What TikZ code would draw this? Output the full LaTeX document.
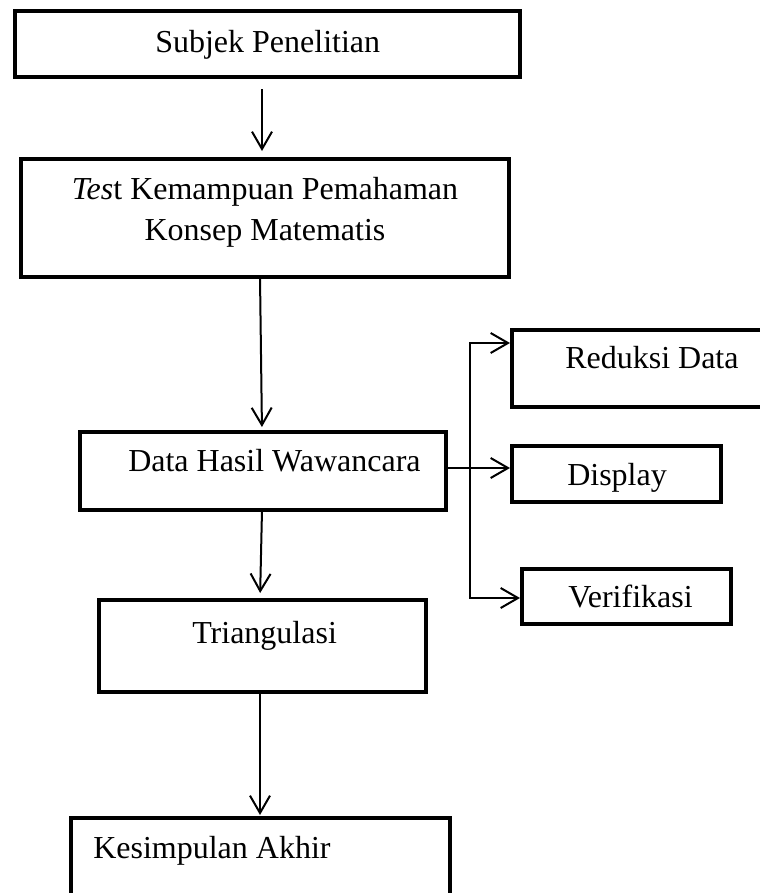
\documentclass[tikz,border=0pt]{standalone}
\usepackage{fontspec}
\setmainfont{Liberation Serif}
\usetikzlibrary{arrows.meta}
\begin{document}
\begin{tikzpicture}[x=0.75pt,y=-0.75pt,
  box/.style={draw, line width=3pt, inner sep=0pt, outer sep=0pt, anchor=north west},
  lbl/.style={anchor=base west, inner sep=0pt, font=\fontsize{24}{29}\selectfont},
  clbl/.style={anchor=base, inner sep=0pt, font=\fontsize{24}{29}\selectfont},
  arr/.style={line width=1.5pt, -{Straight Barb[length=13pt,width=15pt,line width=1.5pt]}}
]
\useasboundingbox (0,0) rectangle (760,893);
\clip (0,0) rectangle (760,893);

% boxes
\node[box, minimum width=378.75pt, minimum height=49.5pt] (sub) at (15,11) {};
\node[box, minimum width=366pt, minimum height=88.5pt] (test) at (21,159) {};
\node[box, minimum width=195pt, minimum height=57.75pt] (red) at (512,330) {};
\node[box, minimum width=156.75pt, minimum height=42pt] (disp) at (512,446) {};
\node[box, minimum width=156.75pt, minimum height=41.25pt] (ver) at (522,569) {};
\node[box, minimum width=274.5pt, minimum height=58.5pt] (data) at (80,432) {};
\node[box, minimum width=245.25pt, minimum height=69pt] (tri) at (99,600) {};
\node[box, minimum width=284.25pt, minimum height=75pt] (kes) at (71,818) {};

% texts
\node[lbl] (tsub) at (155,52) {Subjek Penelitian};
\node[clbl] (tt1) at (265,199) {\textit{Tes}t Kemampuan Pemahaman};
\node[clbl] (tt2) at (265,240) {Konsep Matematis};
\node[lbl] (tred) at (565,368) {Reduksi Data};
\node[lbl] (tdisp) at (567,485) {Display};
\node[lbl] (tver) at (568,607) {Verifikasi};
\node[lbl] (tdata) at (128,471) {Data Hasil Wawancara};
\node[lbl] (ttri) at (192,643) {Triangulasi};
\node[lbl] (tkes) at (93,858) {Kesimpulan Akhir};

% helper coordinates
\coordinate (xa) at (262,0);
\coordinate (xb) at (260,0);
\coordinate (j) at (470,468);
\coordinate (b1) at (470,343);
\coordinate (b2) at (470,598);

% connectors
\draw[arr, shorten <=9pt, shorten >=6pt] (sub.south -| xa) -- (test.north -| xa);
\draw[arr, shorten >=3.75pt] (test.south -| xb) -- (data.north -| xa);
\draw[arr, shorten >=5.25pt] (data.south -| xa) -- (tri.north -| xb);
\draw[arr, shorten >=2.25pt] (tri.south -| xb) -- (kes.north -| xb);
\draw[arr, shorten >=1.5pt] (data.east |- j) -- (disp.west |- j);
\draw[arr, shorten >=1.5pt] (j) -- (b1) -- (red.west |- b1);
\draw[arr, shorten >=1.5pt] (j) -- (b2) -- (ver.west |- b2);
\end{tikzpicture}
\end{document}
